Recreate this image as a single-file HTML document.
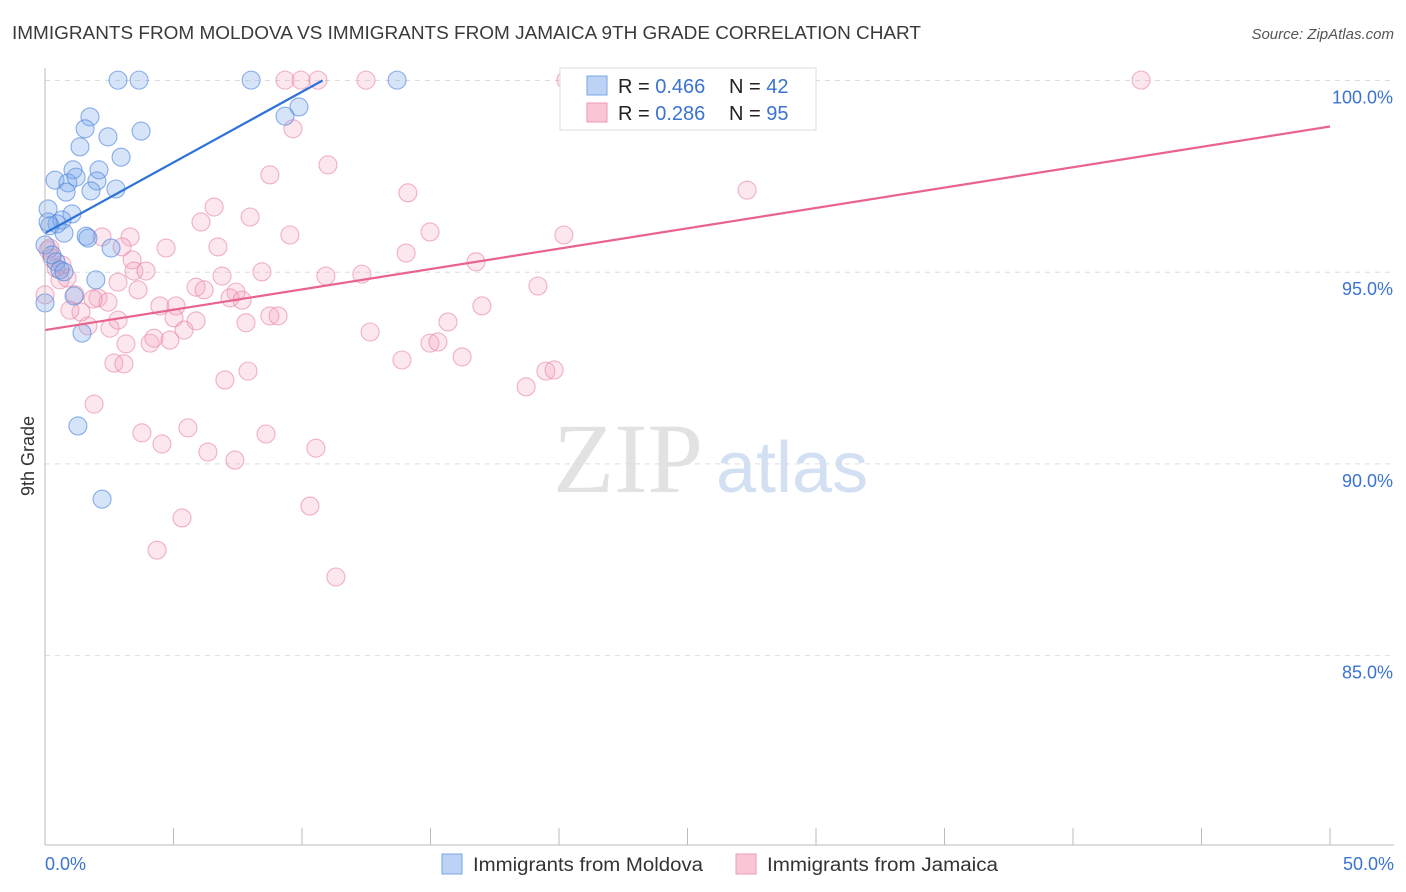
<!DOCTYPE html>
<html><head><meta charset="utf-8"><style>
body{margin:0;background:#fff;font-family:"Liberation Sans",sans-serif}
</style></head><body>
<svg id="chart" width="1406" height="892" xmlns="http://www.w3.org/2000/svg" style="display:block">
<text x="12" y="39" font-size="18" fill="#3a3a3a" textLength="909" lengthAdjust="spacingAndGlyphs">IMMIGRANTS FROM MOLDOVA VS IMMIGRANTS FROM JAMAICA 9TH GRADE CORRELATION CHART</text>
<text x="1394" y="39" font-size="15" fill="#555" font-style="italic" text-anchor="end">Source: ZipAtlas.com</text>
<text x="553" y="492" font-size="100" fill="#e2e2e2" font-family="Liberation Serif,serif">ZIP</text>
<text x="716" y="492" font-size="72" fill="#d3e0f3">atlas</text>
<text transform="translate(34,456) rotate(-90)" font-size="18" fill="#333" text-anchor="middle">9th Grade</text>
<g id="grid"></g><g id="pts"></g><g id="lines"></g>
<line x1="45" y1="68" x2="45" y2="845" stroke="#bbb"/>
<line x1="45" y1="845" x2="1394" y2="845" stroke="#bbb"/>
<text x="45" y="870" font-size="18" fill="#3b73d1">0.0%</text>
<text x="1394" y="870" font-size="18" fill="#3b73d1" text-anchor="end">50.0%</text>
<g>
<rect x="560" y="68" width="256" height="62" fill="#fff" stroke="#ddd"/>
<rect x="587" y="76" width="20" height="19" fill="#bcd3f5" stroke="#7aa5e6"/>
<rect x="587" y="103" width="20" height="19" fill="#f9c6d6" stroke="#ee9ab5"/>
<text x="618" y="93" font-size="20" fill="#222">R = <tspan fill="#3b73d1">0.466</tspan><tspan x="729">N = </tspan><tspan fill="#3b73d1">42</tspan></text>
<text x="618" y="120" font-size="20" fill="#222">R = <tspan fill="#3b73d1">0.286</tspan><tspan x="729">N = </tspan><tspan fill="#3b73d1">95</tspan></text>
</g>
<g>
<rect x="442" y="854" width="20" height="20" fill="#bcd3f5" stroke="#7aa5e6"/>
<text x="473" y="871" font-size="19" fill="#333" textLength="230" lengthAdjust="spacingAndGlyphs">Immigrants from Moldova</text>
<rect x="736" y="854" width="20" height="20" fill="#f9c6d6" stroke="#ee9ab5"/>
<text x="767" y="871" font-size="19" fill="#333" textLength="231" lengthAdjust="spacingAndGlyphs">Immigrants from Jamaica</text>
</g>
</svg>
<script>
const yTicks=[100,95,90,85];
const xTickVals=[0,5,10,15,20,25,30,35,40,45,50];
const bluePx=[[118,80],[139,80],[251,80],[397,80],[299,107],[285,116],[90,117],[85,129],[108,137],[141,131],[80,147],[121,157],[73,170],[99,170],[55,180],[68,183],[76,177],[97,181],[66,192],[91,191],[116,189],[48,209],[72,214],[62,220],[57,224],[50,226],[64,233],[86,236],[88,238],[111,248],[45,245],[52,255],[56,262],[60,270],[64,272],[96,280],[74,296],[45,303],[82,333],[78,426],[102,499],[48,222]];
const pinkPx=[[566,80],[708,80],[1141,80],[285,80],[301,80],[318,80],[366,80],[293,129],[328,165],[270,175],[408,193],[747,190],[214,207],[250,217],[201,222],[290,235],[430,232],[564,235],[102,237],[130,237],[166,248],[218,247],[122,247],[406,253],[48,250],[52,258],[132,260],[62,265],[476,262],[134,271],[146,271],[262,272],[326,276],[362,274],[222,276],[118,282],[67,278],[538,286],[196,287],[138,290],[204,290],[236,292],[160,306],[176,306],[230,298],[242,300],[75,295],[98,298],[108,302],[81,312],[93,299],[482,306],[270,316],[278,316],[448,322],[174,318],[196,321],[246,323],[88,326],[110,328],[184,330],[370,332],[430,343],[438,342],[126,344],[150,343],[170,340],[154,338],[462,357],[402,360],[114,363],[124,364],[248,371],[225,380],[526,387],[546,371],[554,370],[94,404],[142,433],[188,428],[266,434],[162,444],[208,452],[235,460],[316,448],[310,506],[182,518],[157,550],[336,577],[50,248],[60,280],[70,310],[56,268],[118,320],[45,295]];
const toX=p=>(p-45)/1285*50, toY=p=>100-(p-80.5)/191.7*5;
const blueX=bluePx.map(p=>+toX(p[0]).toFixed(2)), blueY=bluePx.map(p=>+toY(p[1]).toFixed(2));
const pinkX=pinkPx.map(p=>+toX(p[0]).toFixed(2)), pinkY=pinkPx.map(p=>+toY(p[1]).toFixed(2));
const blueLine=[[0,96.02],[10.8,100]];
const pinkLine=[[0,93.49],[50,98.8]];
const sx=v=>45+v/50*1285, sy=v=>80.5+(100-v)/5*191.7;
const NS="http://www.w3.org/2000/svg";
function mk(t,a,p){const e=document.createElementNS(NS,t);for(const k in a)e.setAttribute(k,a[k]);p.appendChild(e);return e;}
const grid=document.getElementById('grid');
yTicks.forEach(v=>{
 const l=mk('line',{x1:45,x2:1394,y1:sy(v),y2:sy(v),stroke:'#ddd','stroke-dasharray':'5,5'},grid);
 
 
 const t=mk('text',{x:1393,y:sy(v)+23,'font-size':18,fill:'#3b73d1','text-anchor':'end'},grid);
 t.textContent=v.toFixed(1)+'%';
 
 
});
xTickVals.forEach(v=>{
 const l=mk('line',{x1:sx(v),x2:sx(v),y1:828,y2:845,stroke:'#bbb'},grid);
 
 
});
const pts=document.getElementById('pts');
pinkX.forEach((x,i)=>{
 const c=mk('circle',{cx:sx(x),cy:sy(pinkY[i]),r:9,fill:'rgba(244,160,188,0.25)',stroke:'rgba(232,130,162,0.6)','stroke-width':1.1},pts);
 
 
});
blueX.forEach((x,i)=>{
 const c=mk('circle',{cx:sx(x),cy:sy(blueY[i]),r:9,fill:'rgba(120,165,235,0.3)',stroke:'rgba(80,135,220,0.65)','stroke-width':1.1},pts);
 
 
});
const lines=document.getElementById('lines');
const bl=mk('line',{x1:sx(blueLine[0][0]),y1:sy(blueLine[0][1]),x2:sx(blueLine[1][0]),y2:sy(blueLine[1][1]),stroke:'#2d72d9','stroke-width':2.2},lines);


const pl=mk('line',{x1:sx(pinkLine[0][0]),y1:sy(pinkLine[0][1]),x2:sx(pinkLine[1][0]),y2:sy(pinkLine[1][1]),stroke:'#e8638d','stroke-width':2.2},lines);


</script>
</body></html>
